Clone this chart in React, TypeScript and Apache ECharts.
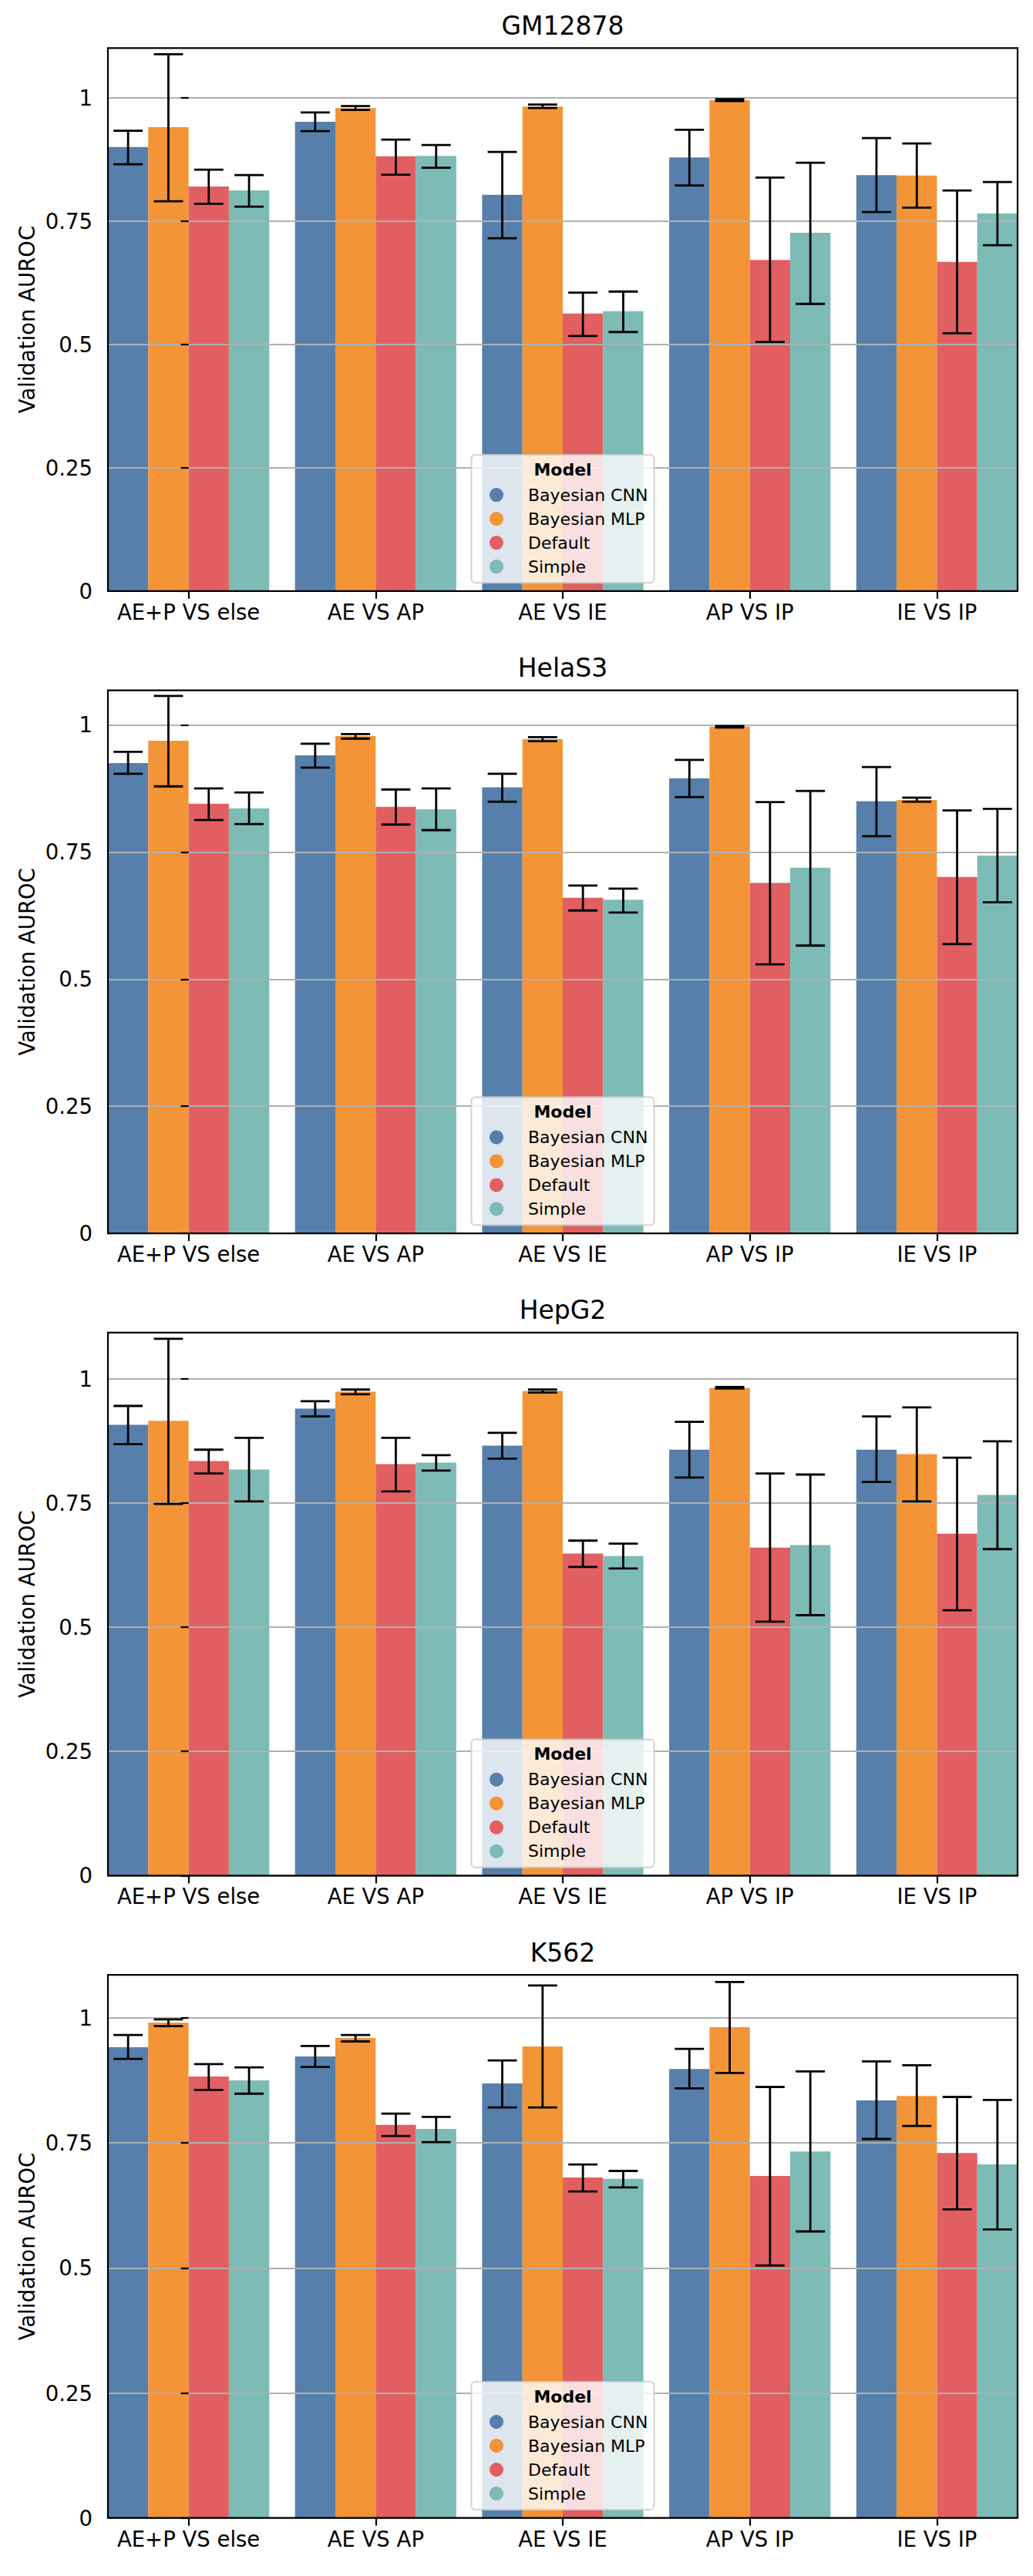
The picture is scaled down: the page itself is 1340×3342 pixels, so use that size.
import { useEffect, useRef } from 'react';
import * as echarts from 'echarts';

const categories = ['AE+P VS else', 'AE VS AP', 'AE VS IE', 'AP VS IP', 'IE VS IP'];
const models = ['Bayesian CNN', 'Bayesian MLP', 'Default', 'Simple'];
const cellLines = ['GM12878', 'HelaS3', 'HepG2', 'K562'];
const modelColors = ['#577FAB', '#F39436', '#E25F61', '#7DBBB6'];
const yTicks = [0, 0.25, 0.5, 0.75, 1];
const yMaxes = [1.1006, 1.068, 1.0925, 1.086];

// GM12878 (rows: Bayesian CNN, Bayesian MLP, Default, Simple)
const gmMean = [
  [0.900, 0.951, 0.803, 0.879, 0.843],
  [0.940, 0.979, 0.982, 0.995, 0.842],
  [0.820, 0.881, 0.5625, 0.671, 0.667],
  [0.812, 0.882, 0.567, 0.726, 0.765],
];
const gmLow = [
  [0.865, 0.932, 0.715, 0.822, 0.768],
  [0.790, 0.975, 0.979, 0.993, 0.777],
  [0.785, 0.844, 0.517, 0.505, 0.5225],
  [0.779, 0.858, 0.525, 0.582, 0.701],
];
const gmHigh = [
  [0.933, 0.970, 0.890, 0.935, 0.918],
  [1.088, 0.983, 0.986, 0.997, 0.907],
  [0.854, 0.915, 0.605, 0.838, 0.812],
  [0.843, 0.904, 0.607, 0.868, 0.829],
];

// HelaS3
const helaMean = [
  [0.925, 0.940, 0.877, 0.895, 0.850],
  [0.969, 0.978, 0.972, 0.9965, 0.852],
  [0.845, 0.839, 0.660, 0.689, 0.701],
  [0.836, 0.834, 0.656, 0.719, 0.743],
];
const helaLow = [
  [0.904, 0.916, 0.849, 0.858, 0.781],
  [0.879, 0.973, 0.968, 0.995, 0.849],
  [0.813, 0.804, 0.635, 0.529, 0.569],
  [0.805, 0.793, 0.631, 0.566, 0.651],
];
const helaHigh = [
  [0.947, 0.963, 0.904, 0.931, 0.917],
  [1.057, 0.982, 0.976, 0.998, 0.857],
  [0.875, 0.873, 0.684, 0.848, 0.832],
  [0.867, 0.875, 0.678, 0.870, 0.835],
];

// HepG2
const hepMean = [
  [0.907, 0.9395, 0.865, 0.857, 0.857],
  [0.915, 0.9736, 0.975, 0.981, 0.848],
  [0.834, 0.828, 0.648, 0.660, 0.688],
  [0.817, 0.831, 0.643, 0.665, 0.766],
];
const hepLow = [
  [0.868, 0.924, 0.839, 0.801, 0.792],
  [0.748, 0.9685, 0.972, 0.980, 0.753],
  [0.809, 0.773, 0.621, 0.511, 0.534],
  [0.753, 0.815, 0.618, 0.524, 0.657],
];
const hepHigh = [
  [0.945, 0.9545, 0.891, 0.913, 0.924],
  [1.080, 0.978, 0.978, 0.983, 0.942],
  [0.857, 0.881, 0.674, 0.809, 0.841],
  [0.881, 0.846, 0.668, 0.807, 0.874],
];

// K562
const k562Mean = [
  [0.9415, 0.923, 0.869, 0.898, 0.835],
  [0.9908, 0.960, 0.943, 0.9815, 0.844],
  [0.883, 0.786, 0.681, 0.684, 0.730],
  [0.875, 0.778, 0.678, 0.733, 0.707],
];
const k562Low = [
  [0.918, 0.902, 0.821, 0.859, 0.758],
  [0.9835, 0.953, 0.821, 0.890, 0.784],
  [0.856, 0.764, 0.653, 0.505, 0.617],
  [0.8485, 0.7515, 0.661, 0.573, 0.577],
];
const k562High = [
  [0.966, 0.944, 0.915, 0.938, 0.913],
  [0.997, 0.966, 1.065, 1.072, 0.9055],
  [0.9076, 0.8085, 0.707, 0.862, 0.842],
  [0.901, 0.802, 0.694, 0.893, 0.836],
];

const panelMeans = [gmMean, helaMean, hepMean, k562Mean];
const panelLows = [gmLow, helaLow, hepLow, k562Low];
const panelHighs = [gmHigh, helaHigh, hepHigh, k562High];

// layout
const PAGE_W = 1340;
const PAGE_H = 3342;
const GRID_LEFT = 140;
const GRID_W = 1180;
const GRID_H = 704.5;
const TOP0 = 62.3;
const STEP = 833.3;
const X_MIN = -0.431;
const X_MAX = 4.431;
const BAR_W = 0.2155;
const CAP_HALF = 0.078;
const FONT = 'DejaVu Sans';
const TICK_FONT = 27.5;

function buildOption() {
  const grid: any[] = [];
  const xAxis: any[] = [];
  const yAxis: any[] = [];
  const series: any[] = [];
  const legend: any[] = [];
  const graphic: any[] = [];

  cellLines.forEach((cell, k) => {
    const top = TOP0 + k * STEP;
    const bottom = top + GRID_H;
    const cx = GRID_LEFT + GRID_W / 2;

    grid.push({ left: GRID_LEFT, top, width: GRID_W, height: GRID_H, outerBoundsMode: 'none' });

    xAxis.push({
      type: 'value',
      gridIndex: k,
      min: X_MIN,
      max: X_MAX,
      z: 3,
      axisLine: { show: false },
      splitLine: { show: false },
      axisTick: {
        show: true,
        length: 10,
        customValues: [0, 1, 2, 3, 4],
        lineStyle: { color: '#000', width: 2.2 },
      },
      axisLabel: {
        customValues: [0, 1, 2, 3, 4],
        formatter: (v: number) => categories[Math.round(v)] ?? '',
        color: '#000',
        fontFamily: FONT,
        fontSize: TICK_FONT,
        margin: 13,
      },
    });

    yAxis.push({
      type: 'value',
      gridIndex: k,
      min: 0,
      max: yMaxes[k],
      interval: 0.25,
      z: 3,
      name: 'Validation AUROC',
      nameLocation: 'middle',
      nameRotate: 90,
      nameGap: 91,
      nameMoveOverlap: false,
      nameTextStyle: { color: '#000', fontFamily: FONT, fontSize: TICK_FONT },
      axisLine: { show: false },
      axisTick: {
        show: true,
        length: 10,
        customValues: yTicks,
        lineStyle: { color: '#000', width: 2.2 },
      },
      axisLabel: {
        customValues: yTicks,
        formatter: (v: number) => String(v),
        color: '#000',
        fontFamily: FONT,
        fontSize: TICK_FONT,
        margin: 20,
      },
      splitLine: { show: true, lineStyle: { color: '#b0b0b0', width: 2.2 } },
    });

    models.forEach((model, m) => {
      series.push({
        type: 'custom',
        name: model,
        xAxisIndex: k,
        yAxisIndex: k,
        z: 2,
        silent: true,
        itemStyle: { color: modelColors[m] },
        data: categories.map((_, c) => [c, panelMeans[k][m][c]]),
        renderItem: (params: any, api: any) => {
          const cat = api.value(0);
          const v = api.value(1);
          const center = cat + (m - 1.5) * BAR_W;
          const p0 = api.coord([center - BAR_W / 2, v]);
          const p1 = api.coord([center + BAR_W / 2, 0]);
          return {
            type: 'rect',
            shape: { x: p0[0], y: p0[1], width: p1[0] - p0[0], height: p1[1] - p0[1] },
            style: { fill: api.visual('color') },
          };
        },
      });
    });

    const errData: number[][] = [];
    models.forEach((_, m) => {
      categories.forEach((__, c) => {
        errData.push([c, panelLows[k][m][c], panelHighs[k][m][c], m]);
      });
    });
    series.push({
      type: 'custom',
      name: 'err' + k,
      xAxisIndex: k,
      yAxisIndex: k,
      z: 4,
      silent: true,
      data: errData,
      renderItem: (params: any, api: any) => {
        const cat = api.value(0);
        const lo = api.value(1);
        const hi = api.value(2);
        const m = api.value(3);
        const center = cat + (m - 1.5) * BAR_W;
        const pLo = api.coord([center, lo]);
        const pHi = api.coord([center, hi]);
        const l = api.coord([center - CAP_HALF, lo]);
        const r = api.coord([center + CAP_HALF, hi]);
        const st = { stroke: '#000', lineWidth: 2.8 };
        return {
          type: 'group',
          children: [
            { type: 'line', shape: { x1: pLo[0], y1: pLo[1], x2: pHi[0], y2: pHi[1] }, style: st },
            { type: 'line', shape: { x1: l[0], y1: pLo[1], x2: r[0], y2: pLo[1] }, style: st },
            { type: 'line', shape: { x1: l[0], y1: pHi[1], x2: r[0], y2: pHi[1] }, style: st },
          ],
        };
      },
    });

    series.push({
      type: 'custom',
      name: 'frame' + k,
      xAxisIndex: k,
      yAxisIndex: k,
      z: 5,
      silent: true,
      data: [[0, 0]],
      renderItem: (params: any) => {
        const cs = params.coordSys;
        return {
          type: 'rect',
          shape: { x: cs.x, y: cs.y, width: cs.width, height: cs.height },
          style: { fill: 'none', stroke: '#000', lineWidth: 2.2 },
        };
      },
    });

    legend.push({
      data: models,
      orient: 'vertical',
      left: 635,
      top: bottom - 135.7,
      padding: 0,
      itemWidth: 72,
      itemHeight: 18,
      itemGap: 9,
      icon: 'circle',
      selectedMode: false,
      z: 12,
      textStyle: { color: '#000', fontFamily: FONT, fontSize: 22, lineHeight: 22 },
    });

    graphic.push({
      type: 'rect',
      z: 11,
      silent: true,
      shape: { x: cx - 118.5, y: bottom - 176.7, width: 237, height: 166, r: 5 },
      style: { fill: 'rgba(255,255,255,0.8)', stroke: 'rgba(204,204,204,0.8)', lineWidth: 2.2 },
    });
    graphic.push({
      type: 'text',
      z: 12,
      silent: true,
      x: cx,
      y: bottom - 157.7,
      style: {
        text: 'Model',
        textAlign: 'center',
        textVerticalAlign: 'middle',
        fontFamily: FONT,
        fontSize: 22,
        fontWeight: 'bold',
        fill: '#000',
      },
    });
    graphic.push({
      type: 'text',
      z: 12,
      silent: true,
      x: cx,
      y: top - 29,
      style: {
        text: cell,
        textAlign: 'center',
        textVerticalAlign: 'middle',
        fontFamily: FONT,
        fontSize: 33,
        fill: '#000',
      },
    });
  });

  return {
    animation: false,
    backgroundColor: '#ffffff',
    textStyle: { fontFamily: FONT },
    grid,
    xAxis,
    yAxis,
    series,
    legend,
    graphic,
  };
}

export default function App() {
  const ref = useRef<HTMLDivElement>(null);
  useEffect(() => {
    if (!ref.current) return;
    const chart = echarts.init(ref.current, null, { renderer: 'svg', width: PAGE_W, height: PAGE_H });
    chart.setOption(buildOption() as any);
    return () => chart.dispose();
  }, []);
  return (
    <div
      ref={ref}
      style={{ position: 'absolute', left: 0, top: 0, width: PAGE_W, height: PAGE_H, background: '#fff' }}
    />
  );
}
